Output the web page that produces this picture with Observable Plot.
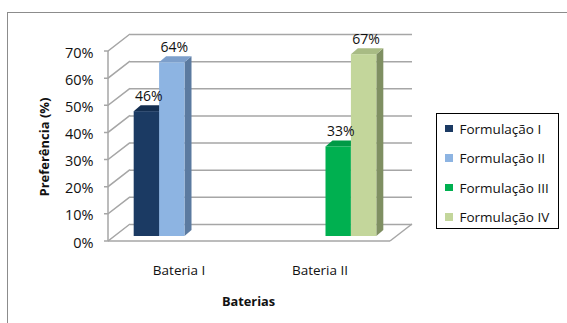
<!DOCTYPE html>
<html><head><meta charset="utf-8">
<script src="https://cdn.jsdelivr.net/npm/d3@7"></script>
<script src="https://cdn.jsdelivr.net/npm/@observablehq/plot@0.6"></script>
<style>
body{margin:0;background:#fff;overflow:hidden;}
#wrap{position:relative;width:567px;height:323px;overflow:hidden;font-family:"Open Sans",sans-serif;color:#111;}
#border{position:absolute;left:7px;top:12px;width:700px;height:400px;border:1px solid #8c8c8c;}
#chart{position:absolute;left:0;top:0;}
#ylabel{position:absolute;left:43.5px;top:147px;transform:translate(-50%,-50%) rotate(-90deg);font-weight:bold;font-size:13px;white-space:nowrap;}
#xlabel{position:absolute;left:248.5px;top:301px;transform:translate(-50%,-50%);font-weight:bold;font-size:12.8px;white-space:nowrap;}
#legend{position:absolute;left:435.5px;top:112.5px;width:123px;height:116px;border:1px solid #000;box-sizing:border-box;}
.item{position:absolute;left:0;height:20px;display:flex;align-items:center;font-size:13.5px;white-space:nowrap;transform:translateY(-50%);}
.sw{width:7.5px;height:7.5px;margin-left:8.5px;margin-right:7px;}
</style></head>
<body><div id="wrap">
<div id="border"></div>
<div id="chart"></div>
<div id="ylabel">Preferência (%)</div>
<div id="xlabel">Baterias</div>
<div id="legend"></div>
</div>
<script>
const categories = ["Bateria I", "Bateria II"];
const formulations = ["Formulação I", "Formulação II", "Formulação III", "Formulação IV"];
const formulationBattery = ["Bateria I", "Bateria I", "Bateria II", "Bateria II"];
const preference = [46, 64, 33, 67];
const yTicks = [0, 10, 20, 30, 40, 50, 60, 70];
const frontColors = ["#1b3a63", "#8db4e2", "#00b050", "#c3d69b"];
const topColors = ["#142e50", "#7d9fcb", "#009a46", "#a8bb84"];
const sideColors = ["#10243f", "#5b7aa0", "#007a37", "#7f8f62"];

const rows = formulations.map((f, i) => ({bateria: formulationBattery[i], form: f, value: preference[i]}));

const WALL = [22, -17];
const BAR_OFF = [6, -5];
const BAR_DEPTH = [7, -6];
const GRID = "#a6a6a6";

const frame3d = Plot.dot(categories, {fx: d => d, frameAnchor: "middle", render(index, scales) {
  const {x, y} = scales;
  const [xl, xr] = x.range();
  const cat = categories[index[0]];
  const g = d3.create("svg:g").attr("stroke", GRID).attr("stroke-width", 1.5).attr("fill", "none");
  const y0 = y(0);
  g.append("line").attr("x1", xl).attr("x2", xr).attr("y1", y0).attr("y2", y0);
  if (cat === categories[0]) {
    g.append("line").attr("x1", xl).attr("x2", xl).attr("y1", y(yTicks[yTicks.length - 1])).attr("y2", y0);
    for (const t of yTicks) {
      const yy = y(t);
      g.append("path").attr("d", `M${xl - 4},${yy}H${xl}l${WALL[0]},${WALL[1]}`);
    }
  }
  if (cat === categories[categories.length - 1]) {
    g.append("line").attr("x1", xr).attr("y1", y0).attr("x2", xr + WALL[0]).attr("y2", y0 + WALL[1]);
  }
  return g.node();
}});

const bars3d = Plot.barY(rows, {fx: "bateria", x: "form", y: "value", render(index, scales) {
  const {x, y} = scales;
  const bw = x.bandwidth();
  const g = d3.create("svg:g");
  const geo = Array.from(index, i => {
    const r = rows[i];
    const k = formulations.indexOf(r.form);
    const x0 = x(r.form) + BAR_OFF[0], x1 = x0 + bw;
    const yb = y(0) + BAR_OFF[1], yt = y(r.value) + BAR_OFF[1];
    return {k, x0, x1, yb, yt};
  });
  const [dx, dy] = BAR_DEPTH;
  for (const b of geo) {
    g.append("path").attr("fill", sideColors[b.k])
      .attr("d", `M${b.x1},${b.yt}l${dx},${dy}V${b.yb + dy}l${-dx},${-dy}Z`);
  }
  for (const b of geo) {
    g.append("path").attr("fill", topColors[b.k])
      .attr("d", `M${b.x0},${b.yt}H${b.x1}l${dx},${dy}H${b.x0 + dx}Z`);
  }
  return g.node();
}});

const chart = Plot.plot({
  width: 567,
  height: 323,
  marginLeft: 107,
  marginRight: 177,
  marginTop: 51,
  marginBottom: 82,
  style: {fontFamily: "Open Sans", fontSize: "13.5px", color: "#111", background: "transparent", overflow: "visible"},
  fx: {domain: categories, padding: 0, axis: "bottom", tickSize: 0, tickPadding: 24, label: null},
  x: {domain: formulations, paddingInner: 0, paddingOuter: 0.775, round: false, axis: null},
  y: {domain: [0, 70]},
  color: {domain: formulations, range: frontColors},
  marks: [
    Plot.ruleY(yTicks, {dx: WALL[0], dy: WALL[1], stroke: GRID, strokeWidth: 1.5}),
    frame3d,
    Plot.axisY({ticks: yTicks, tickFormat: d => d + "%", tickSize: 0, tickPadding: 15, fontSize: 14.5, dy: 1.5, label: null}),
    bars3d,
    Plot.barY(rows, {fx: "bateria", x: "form", y: "value", fill: "form", dx: BAR_OFF[0], dy: BAR_OFF[1]}),
    Plot.text(rows, {fx: "bateria", x: "form", y: "value", text: d => `${d.value}%`, dx: BAR_OFF[0] + 2, dy: BAR_OFF[1] - 15, fontSize: 14, fill: "#111"})
  ]
});
document.getElementById("chart").appendChild(chart);

const legend = document.getElementById("legend");
const legendY = [15, 44.5, 74, 103.5];
formulations.forEach((f, i) => {
  const it = document.createElement("div");
  it.className = "item";
  it.style.top = legendY[i] + "px";
  const sw = document.createElement("span");
  sw.className = "sw";
  sw.style.background = frontColors[i];
  it.appendChild(sw);
  it.appendChild(document.createTextNode(f));
  legend.appendChild(it);
});
</script>
</body></html>
